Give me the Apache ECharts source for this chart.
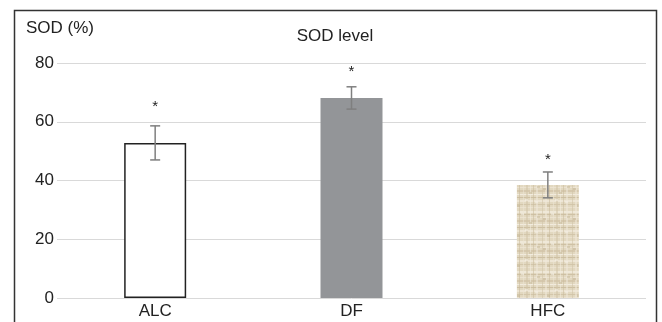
<!DOCTYPE html>
<html>
<head>
<meta charset="utf-8">
<script src="https://cdn.jsdelivr.net/npm/echarts@6/dist/echarts.min.js"></script>
<style>html,body{margin:0;padding:0;background:#fff}#c{width:662px;height:322px}</style>
</head>
<body>
<div id="c"></div>
<script>
var categories = ['ALC', 'DF', 'HFC'];
var sodMean = [52.8, 68.1, 38.5];
var sodErr = [5.8, 3.8, 4.4];
var starPos = [66, 78, 48];
var yTicks = [0, 20, 40, 60, 80];

// woven linen texture for HFC
function makeTexture() {
  var cv = document.createElement('canvas');
  cv.width = 30; cv.height = 30;
  var g = cv.getContext('2d');
  g.fillStyle = '#e2d8c0'; g.fillRect(0, 0, 30, 30);
  var h = [[1,'#f1ebdc',2],[4,'#cbbd9f',1],[7,'#ece4d2',1],[10,'#d3c6a9',2],[14,'#f4efe3',1],[17,'#c9bb9c',1],[20,'#efe8d7',2],[24,'#d0c3a6',1],[27,'#ebe3d0',1]];
  h.forEach(function (r) { g.globalAlpha = 0.85; g.fillStyle = r[1]; g.fillRect(0, r[0], 30, r[2]); });
  var v = [[2,'#d0c3a5',1],[5,'#f0e9d9',2],[9,'#c8ba9b',1],[13,'#ede6d4',1],[16,'#d2c5a8',2],[20,'#f2ecdf',1],[23,'#cabc9d',1],[26,'#efe8d8',2]];
  v.forEach(function (r) { g.globalAlpha = 0.55; g.fillStyle = r[1]; g.fillRect(r[0], 0, r[2], 30); });
  g.globalAlpha = 0.5;
  var spots = [[3,8,'#bfb090'],[11,3,'#f6f2e8'],[19,12,'#c4b595'],[25,21,'#f5f0e5'],[7,25,'#c2b393'],[15,19,'#f7f3ea'],[27,6,'#c6b797']];
  spots.forEach(function (p) { g.fillStyle = p[2]; g.fillRect(p[0], p[1], 3, 2); });
  g.globalAlpha = 1;
  return cv;
}

var chart = echarts.init(document.getElementById('c'));
var fillStyles = [
  { color: '#ffffff', borderColor: '#222222', borderWidth: 1.5 },
  { color: '#939598' },
  { color: { image: makeTexture(), repeat: 'repeat' } }
];
var FF = 'Liberation Sans, Arial, sans-serif';

chart.setOption({
  animation: false,
  textStyle: { fontFamily: FF },
  title: {
    text: 'SOD level', left: 330, top: 23, textAlign: 'center',
    textStyle: { fontSize: 17, fontWeight: 'normal', color: '#222', fontFamily: FF }
  },
  graphic: [
    { type: 'rect', shape: { x: 14.5, y: 10.5, width: 642, height: 400 },
      style: { fill: 'none', stroke: '#333', lineWidth: 1.5 }, silent: true },
    { type: 'text', left: 26, top: 20,
      style: { text: 'SOD (%)', fontSize: 17, fill: '#222', fontFamily: FF } }
  ],
  grid: { left: 57, right: 16, top: 63, bottom: 24 },
  xAxis: {
    type: 'category', data: categories,
    axisLine: { show: false }, axisTick: { show: false },
    axisLabel: { fontSize: 17, color: '#222', margin: 5 }
  },
  yAxis: {
    type: 'value', min: yTicks[0], max: yTicks[yTicks.length - 1], interval: 20,
    axisLine: { show: false }, axisTick: { show: false },
    axisLabel: { fontSize: 17, color: '#222', margin: 3 },
    splitLine: { lineStyle: { color: '#d9d9d9', width: 1 } }
  },
  series: [
    {
      type: 'bar', barWidth: 62,
      data: sodMean.map(function (v, i) { return { value: v, itemStyle: fillStyles[i] }; })
    },
    {
      type: 'custom',
      data: sodMean.map(function (v, i) { return [i, v, sodErr[i], starPos[i]]; }),
      renderItem: function (params, api) {
        var x = api.value(0), m = api.value(1), e = api.value(2), s = api.value(3);
        var top = api.coord([x, m + e]), bot = api.coord([x, m - e]), st = api.coord([x, s]);
        var cw = 5;
        var ls = { stroke: '#7f7f7f', lineWidth: 1.5 };
        return {
          type: 'group',
          children: [
            { type: 'line', shape: { x1: top[0], y1: top[1], x2: bot[0], y2: bot[1] }, style: ls },
            { type: 'line', shape: { x1: top[0] - cw, y1: top[1], x2: top[0] + cw, y2: top[1] }, style: ls },
            { type: 'line', shape: { x1: bot[0] - cw, y1: bot[1], x2: bot[0] + cw, y2: bot[1] }, style: ls },
            { type: 'text', style: { text: '*', x: st[0], y: st[1] + 3, align: 'center', verticalAlign: 'middle',
              fontSize: 15, fill: '#222', fontFamily: FF } }
          ]
        };
      },
      z: 5
    }
  ]
});
</script>
</body>
</html>
